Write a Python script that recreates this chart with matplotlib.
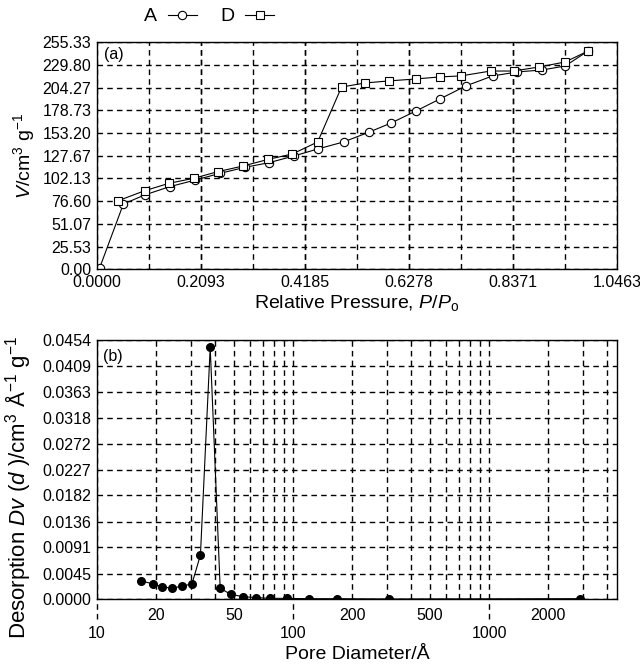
import numpy as np
import matplotlib
matplotlib.use("Agg")
import matplotlib.pyplot as plt
from matplotlib.lines import Line2D
from matplotlib.ticker import FixedLocator, FixedFormatter

plt.rcParams['font.family'] = ['Liberation Sans', 'DejaVu Sans']
plt.rcParams['mathtext.fontset'] = 'custom'
plt.rcParams['mathtext.rm'] = 'Liberation Sans'
plt.rcParams['mathtext.it'] = 'Liberation Sans:italic'

# (a) isotherm: A and D branches
a_p = [0.005, 0.053, 0.096, 0.146, 0.198, 0.248, 0.298, 0.346, 0.396, 0.444,
       0.496, 0.548, 0.592, 0.642, 0.690, 0.742, 0.796, 0.846, 0.896, 0.942, 0.988]
a_v = [1.1, 73.4, 83.6, 92.9, 100.4, 108.0, 114.7, 119.9, 127.4, 135.3,
       143.2, 154.4, 164.6, 178.1, 191.6, 206.2, 217.5, 222.0, 224.2, 228.7, 245.5]
d_p = [0.043, 0.096, 0.145, 0.195, 0.243, 0.294, 0.345, 0.393, 0.444, 0.492,
       0.540, 0.588, 0.642, 0.690, 0.732, 0.792, 0.838, 0.890, 0.942, 0.988]
d_v = [77.2, 88.4, 96.7, 102.4, 109.8, 116.2, 123.7, 129.7, 143.2, 205.0,
       209.6, 211.9, 214.1, 216.4, 217.5, 223.0, 223.0, 227.6, 233.2, 245.5]

# (b) pore size distribution
pore_d = [16.7, 19.3, 21.5, 24.2, 27.2, 30.5, 33.7, 37.8, 42.5, 48.0, 55.4,
          64.9, 75.9, 92.9, 120.5, 167, 310, 2900]
dv = [0.00326, 0.00268, 0.00216, 0.00193, 0.00233, 0.00268, 0.00777, 0.04417,
      0.00193, 0.00088, 0.00046, 0.00028, 0.00018, 0.00015, 0.00010, 0.00010,
      0.00005, 0.00010]

top_xticks = [0.0, 0.2093, 0.4185, 0.6278, 0.8371, 1.0463]
top_xlabels = ['0.0000', '0.2093', '0.4185', '0.6278', '0.8371', '1.0463']
top_yticks = [0.00, 25.53, 51.07, 76.60, 102.13, 127.67, 153.20, 178.73, 204.27, 229.80, 255.33]
bot_yticks = [0.0, 0.0045, 0.0091, 0.0136, 0.0182, 0.0227, 0.0272, 0.0318, 0.0363, 0.0409, 0.0454]
bot_major = [10, 100, 1000]
bot_minor = [20, 30, 40, 50, 60, 70, 80, 90, 200, 300, 400, 500, 600, 700, 800, 900,
             2000, 3000, 4000]
bot_minor_labels = ['20', '', '', '50', '', '', '', '', '200', '', '', '500', '', '', '', '',
                    '2000', '', '']

dash = (0, (4, 3))
fig = plt.figure(figsize=(6.4, 6.66), dpi=100)

# ---- panel (a)
ax1 = fig.add_axes([0.1516, 0.5957, 0.8125, 0.3408])
ax1.plot(a_p, a_v, '-o', color='black', lw=0.8, ms=6, mfc='white', mew=0.8)
ax1.plot(d_p, d_v, '-s', color='black', lw=0.8, ms=5.5, mfc='white', mew=0.8)
ax1.set_xlim(0, 1.0463)
ax1.set_ylim(0, 255.33)
ax1.set_xticks(top_xticks)
ax1.set_xticklabels(top_xlabels)
ax1.xaxis.set_minor_locator(FixedLocator(np.linspace(0, 1.0463, 11)))
ax1.set_yticks(top_yticks)
ax1.set_yticklabels([f'{t:.2f}' for t in top_yticks])
ax1.grid(True, which='both', axis='x', color='black', lw=1.0, linestyle=dash)
ax1.grid(True, which='major', axis='y', color='black', lw=1.0, linestyle=dash)
ax1.tick_params(which='both', length=0, labelsize=11.5, pad=4)
ax1.set_xlabel('Relative Pressure, $\\it{P}$/$\\it{P}_\\mathrm{o}$', fontsize=14, labelpad=2)
ax1.set_ylabel('$\\it{V}$/cm$^3$ g$^{-1}$', fontsize=14, labelpad=4)
ax1.text(0.014, 0.978, '(a)', transform=ax1.transAxes, fontsize=11.5, va='top')

# ---- panel (b)
ax2 = fig.add_axes([0.1516, 0.1002, 0.8125, 0.3889])
ax2.plot(pore_d, dv, '-o', color='black', lw=0.8, ms=5.5, mfc='black')
ax2.set_xscale('log')
ax2.set_xlim(10, 4500)
ax2.set_ylim(0, 0.0454)
ax2.xaxis.set_major_locator(FixedLocator(bot_major))
ax2.xaxis.set_major_formatter(FixedFormatter([str(v) for v in bot_major]))
ax2.xaxis.set_minor_locator(FixedLocator(bot_minor))
ax2.xaxis.set_minor_formatter(FixedFormatter(bot_minor_labels))
ax2.set_yticks(bot_yticks)
ax2.set_yticklabels([f'{t:.4f}' for t in bot_yticks])
ax2.grid(True, which='both', axis='x', color='black', lw=1.0, linestyle=dash)
ax2.grid(True, which='major', axis='y', color='black', lw=1.0, linestyle=dash)
ax2.tick_params(which='both', length=0, labelsize=11.5)
ax2.tick_params(axis='y', pad=4)
ax2.tick_params(axis='x', which='minor', pad=6)
ax2.tick_params(axis='x', which='major', pad=19)
ax2.vlines(bot_major, -0.075, 0, transform=ax2.get_xaxis_transform(), colors='black',
           lw=1.0, linestyles=dash, clip_on=False)
ax2.set_xlabel('Pore Diameter/Å', fontsize=14, labelpad=4)
ax2.set_ylabel('Desorption $\\it{Dv}$ ($\\it{d}$ )/cm$^3$ Å$^{-1}$ g$^{-1}$', fontsize=16)
ax2.yaxis.set_label_coords(-0.123, 0.43)
ax2.text(0.012, 0.968, '(b)', transform=ax2.transAxes, fontsize=11.5, va='top')

for ax in (ax1, ax2):
    for sp in ax.spines.values():
        sp.set_linewidth(1.0)

# legend above panel (a)
handles = [Line2D([], [], color='black', lw=0.8, marker='o', ms=6, mfc='white', mew=0.8),
           Line2D([], [], color='black', lw=0.8, marker='s', ms=5.5, mfc='white', mew=0.8)]
fig.legend(handles, ['A', 'D'], loc='center', bbox_to_anchor=(0.327, 0.975), ncol=2,
           frameon=False, markerfirst=False, fontsize=14, handlelength=1.5,
           handletextpad=0.55, columnspacing=1.2)

fig.savefig('out.png', dpi=100)
